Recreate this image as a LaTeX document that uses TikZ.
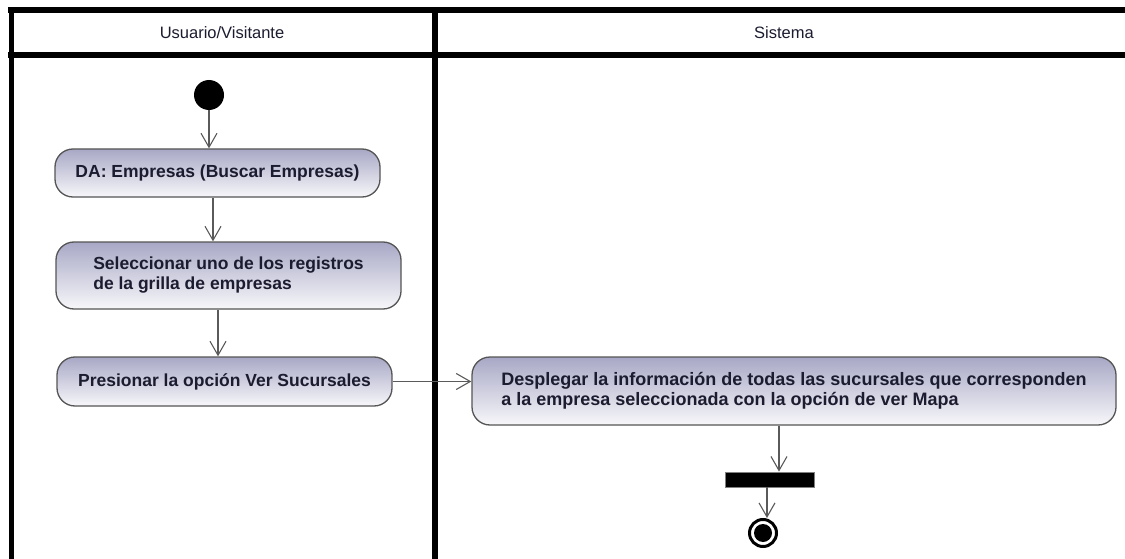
\documentclass[tikz,border=0pt]{standalone}
\usepackage{fontspec}
\setmainfont{Liberation Sans}
\usetikzlibrary{arrows.meta,calc}
\definecolor{boxtop}{HTML}{A8A8C6}
\definecolor{boxbot}{HTML}{F7F7FA}
\definecolor{boxline}{HTML}{555555}
\definecolor{flowc}{HTML}{5A5A5A}
\definecolor{txt}{HTML}{1C1C30}
\begin{document}
\begin{tikzpicture}[x=1pt,y=-1pt,
  lane/.style={line width=6pt,black},
  lanetitle/.style={font=\fontsize{16.5}{19}\selectfont,text=txt,inner sep=0pt},
  act/.style={draw=boxline,line width=1.3pt,rounded corners=18pt,
    top color=boxtop,bottom color=boxbot,inner sep=0pt,
    font=\fontsize{17.5}{20}\selectfont\bfseries,text=txt,align=left},
  flow/.style={draw=flowc,line width=1.2pt,
    -{Straight Barb[length=14pt,width=16pt,line width=1.1pt]}},
  startnode/.style={circle,fill=black,minimum size=30pt,inner sep=0pt},
  barnode/.style={fill=black,draw=gray,line width=0.8pt,minimum width=89pt,minimum height=15pt,inner sep=0pt},
  endouter/.style={circle,draw=black,line width=3pt,fill=white,minimum size=27pt,inner sep=0pt},
  endinner/.style={circle,fill=black,minimum size=18pt,inner sep=0pt}
  ]
\clip (0,0) rectangle (1125,559);
\fill[white] (0,0) rectangle (1125,559);
% swimlanes
\draw[lane] (8,10.5) -- (1140,10.5);
\draw[lane] (8,55) -- (1140,55);
\draw[lane,line width=5pt] (11,8) -- (11,570);
\draw[lane] (435,8) -- (435,570);
\node[lanetitle] (h1) at (222,33) {Usuario/Visitante};
\node[lanetitle] (h2) at (784,33) {Sistema};
% nodes
\node[startnode] (start) at (209,95) {};
\node[act,minimum width=325pt,minimum height=48pt] (b1) at (217.5,173) {DA: Empresas (Buscar Empresas)};
\node[act,minimum width=345pt,minimum height=67pt] (b2) at (228.5,275.5) {Seleccionar uno de los registros\\de la grilla de empresas};
\node[act,minimum width=335pt,minimum height=49pt] (b3) at (224.5,381.5) {Presionar la opción Ver Sucursales};
\node[act,minimum width=644pt,minimum height=68pt,font=\fontsize{18}{20}\selectfont\bfseries] (b4) at (794,391) {Desplegar la información de todas las sucursales que corresponden\\a la empresa seleccionada con la opción de ver Mapa};
\node[barnode] (bar) at (769.5,479.5) {};
\node[endouter] (end) at (763,533) {};
\node[endinner] (endin) at (end) {};
% flows
\draw[flow] (start.south) -- (start.south |- b1.north);
\draw[flow] ([xshift=-4.5pt]b1.south) -- ([xshift=-4.5pt]b1.south |- b2.north);
\draw[flow] ([xshift=-10.5pt]b2.south) -- ([xshift=-10.5pt]b2.south |- b3.north);
\draw[flow] (b3.east) -- (b3.east -| b4.west);
\draw[flow] ([xshift=-15pt]b4.south) -- ([xshift=-15pt]b4.south |- bar.north);
\draw[flow] ([xshift=-2.5pt]bar.south) -- ([xshift=-2.5pt]bar.south |- end.north);
\end{tikzpicture}
\end{document}
